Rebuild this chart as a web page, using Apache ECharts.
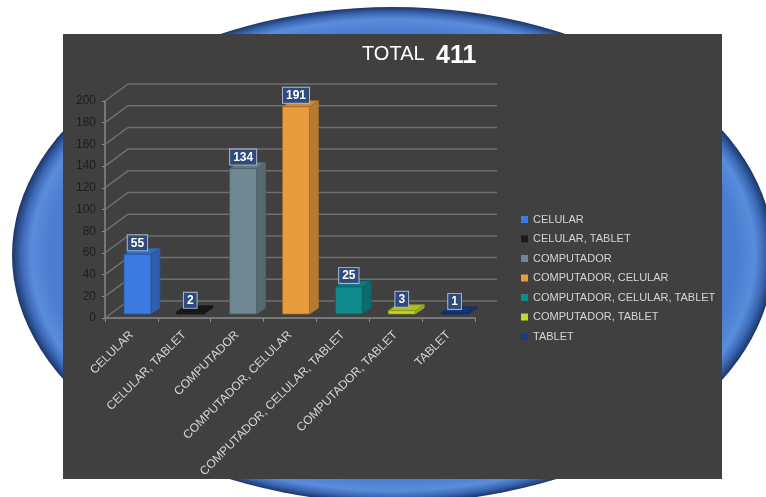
<!DOCTYPE html>
<html>
<head>
<meta charset="utf-8">
<script src="https://cdn.jsdelivr.net/npm/echarts@6/dist/echarts.min.js"></script>
<style>
  html, body { margin: 0; padding: 0; background: #ffffff; }
  #chart { width: 766px; height: 497px; }
</style>
</head>
<body>
<div id="chart"></div>
<script>
// Device usage counts
const categories = ['CELULAR', 'CELULAR, TABLET', 'COMPUTADOR', 'COMPUTADOR, CELULAR',
  'COMPUTADOR, CELULAR, TABLET', 'COMPUTADOR, TABLET', 'TABLET'];
const counts = [55, 2, 134, 191, 25, 3, 1];
const barColors = ['#3b7ae0', '#1c1c1c', '#6f8891', '#e99c3d', '#10898d', '#c6d62b', '#163d8c'];
const yTicks = [0, 20, 40, 60, 80, 100, 120, 140, 160, 180, 200];

const total = counts.reduce((a, b) => a + b, 0);

function shade(hex, f) {
  const n = parseInt(hex.slice(1), 16);
  let r = (n >> 16) & 255, g = (n >> 8) & 255, b = n & 255;
  const m = v => Math.max(0, Math.min(255, Math.round(f < 1 ? v * f : v + (255 - v) * (f - 1))));
  return 'rgb(' + m(r) + ',' + m(g) + ',' + m(b) + ')';
}

// Back-wall depth of the pseudo-3D frame
const WALL_DX = 23, WALL_DY = 17;
// Bar depth and placement inside the floor
const BAR_DX = 9, BAR_DY = 6, BAR_SHIFT_X = 6, BAR_SHIFT_Y = -4;

function renderWall(params, api) {
  const cs = params.coordSys;
  const y = api.coord([0, api.value(1)])[1];
  const x0 = cs.x;
  return {
    type: 'polyline',
    silent: true,
    shape: { points: [[x0, y], [x0 + WALL_DX, y - WALL_DY], [x0 + cs.width + WALL_DX - 1, y - WALL_DY]] },
    style: { stroke: '#6e6e6e', lineWidth: 1.5, fill: null }
  };
}

function makeBarRenderer(color) {
  return function (params, api) {
    const idx = api.value(0);
    const val = api.value(1);
    const top = api.coord([idx, val]);
    const base = api.coord([idx, 0]);
    const band = api.size([1, 0])[0];
    const w = band * 0.51;
    const x = top[0] - w / 2 + BAR_SHIFT_X;
    const yTop = top[1] + BAR_SHIFT_Y;
    const yBase = base[1] + BAR_SHIFT_Y;
    const edge = shade(color, 0.7);
    return {
      type: 'group',
      children: [
        {
          type: 'polygon',
          shape: { points: [[x + w, yTop], [x + w + BAR_DX, yTop - BAR_DY], [x + w + BAR_DX, yBase - BAR_DY], [x + w, yBase]] },
          style: { fill: shade(color, 0.78), stroke: edge, lineWidth: 0.8 }
        },
        {
          type: 'polygon',
          shape: { points: [[x, yTop], [x + BAR_DX, yTop - BAR_DY], [x + w + BAR_DX, yTop - BAR_DY], [x + w, yTop]] },
          style: { fill: shade(color, 0.88), stroke: edge, lineWidth: 0.8 }
        },
        {
          type: 'rect',
          shape: { x: x, y: yTop, width: w, height: Math.max(yBase - yTop, 0.5) },
          style: { fill: color, stroke: edge, lineWidth: 0.8 }
        },
        {
          type: 'text',
          x: x + w / 2,
          y: yTop - 4,
          style: {
            text: String(val),
            fill: '#ffffff',
            font: 'bold 12px "Liberation Sans", Arial, sans-serif',
            align: 'center',
            verticalAlign: 'bottom',
            backgroundColor: '#2f4b7c',
            borderColor: '#a8b8d6',
            borderWidth: 1,
            padding: [2, 3, 1, 3]
          },
          z2: 10
        }
      ]
    };
  };
}

const barSeries = categories.map((name, i) => ({
  type: 'custom',
  name: name,
  coordinateSystem: 'cartesian2d',
  itemStyle: { color: barColors[i] },
  encode: { x: 0, y: 1 },
  data: [[i, counts[i]]],
  renderItem: makeBarRenderer(barColors[i]),
  z: 5
}));

const chart = echarts.init(document.getElementById('chart'), null, { renderer: 'canvas' });

chart.setOption({
  backgroundColor: '#ffffff',
  animation: false,
  textStyle: { fontFamily: '"Liberation Sans", Arial, sans-serif' },
  graphic: [
    {
      type: 'circle',
      x: 393, y: 255,
      scaleY: 248 / 381,
      shape: { cx: 0, cy: 0, r: 381 },
      z: -20,
      silent: true,
      style: {
        fill: {
          type: 'radial', x: 0.5, y: 0.5, r: 0.5,
          colorStops: [
            { offset: 0, color: '#4c7fd3' },
            { offset: 0.9, color: '#4a7dd1' },
            { offset: 0.95, color: '#5a8cdb' },
            { offset: 0.975, color: '#3c69b6' },
            { offset: 1, color: '#1b3568' }
          ]
        }
      }
    },
    {
      type: 'rect',
      shape: { x: 63, y: 34, width: 659, height: 445 },
      z: -10,
      silent: true,
      style: { fill: '#404040' }
    },
    {
      type: 'text',
      x: 362, y: 54,
      z: 10,
      style: { text: 'TOTAL', fill: '#ffffff', font: '20px "Liberation Sans", Arial, sans-serif', verticalAlign: 'middle' }
    },
    {
      type: 'text',
      x: 436, y: 56,
      z: 10,
      style: { text: String(total), fill: '#ffffff', font: 'bold 25px "Liberation Sans", Arial, sans-serif', verticalAlign: 'middle' }
    }
  ],
  grid: { left: 105, right: 291, top: 101, bottom: 179, containLabel: false },
  legend: {
    data: categories,
    orient: 'vertical',
    left: 521,
    top: 213,
    padding: 0,
    icon: 'rect',
    itemWidth: 7,
    itemHeight: 7,
    itemGap: 6.5,
    selectedMode: false,
    textStyle: { color: '#d4d4d4', fontSize: 11, lineHeight: 13, fontFamily: '"Liberation Sans", Arial, sans-serif' }
  },
  xAxis: {
    type: 'category',
    data: categories,
    boundaryGap: true,
    axisLine: { show: true, lineStyle: { color: '#8a8a8a', width: 1.5 } },
    axisTick: { show: true, length: 4, lineStyle: { color: '#8a8a8a' } },
    axisLabel: { rotate: 45, interval: 0, margin: 15, color: '#d4d4d4', fontSize: 12 },
    splitLine: { show: false }
  },
  yAxis: {
    type: 'value',
    min: 0,
    max: 200,
    interval: 20,
    axisLine: { show: true, lineStyle: { color: '#8a8a8a', width: 1.5 } },
    axisTick: { show: true, length: 3, lineStyle: { color: '#8a8a8a' } },
    axisLabel: { color: '#1e1e1e', fontSize: 12, margin: 9 },
    splitLine: { show: false }
  },
  series: [
    {
      type: 'custom',
      name: 'wall',
      silent: true,
      coordinateSystem: 'cartesian2d',
      encode: { x: 0, y: 1 },
      data: yTicks.map(v => [0, v]),
      renderItem: renderWall,
      z: 1
    }
  ].concat(barSeries)
});
</script>
</body>
</html>
